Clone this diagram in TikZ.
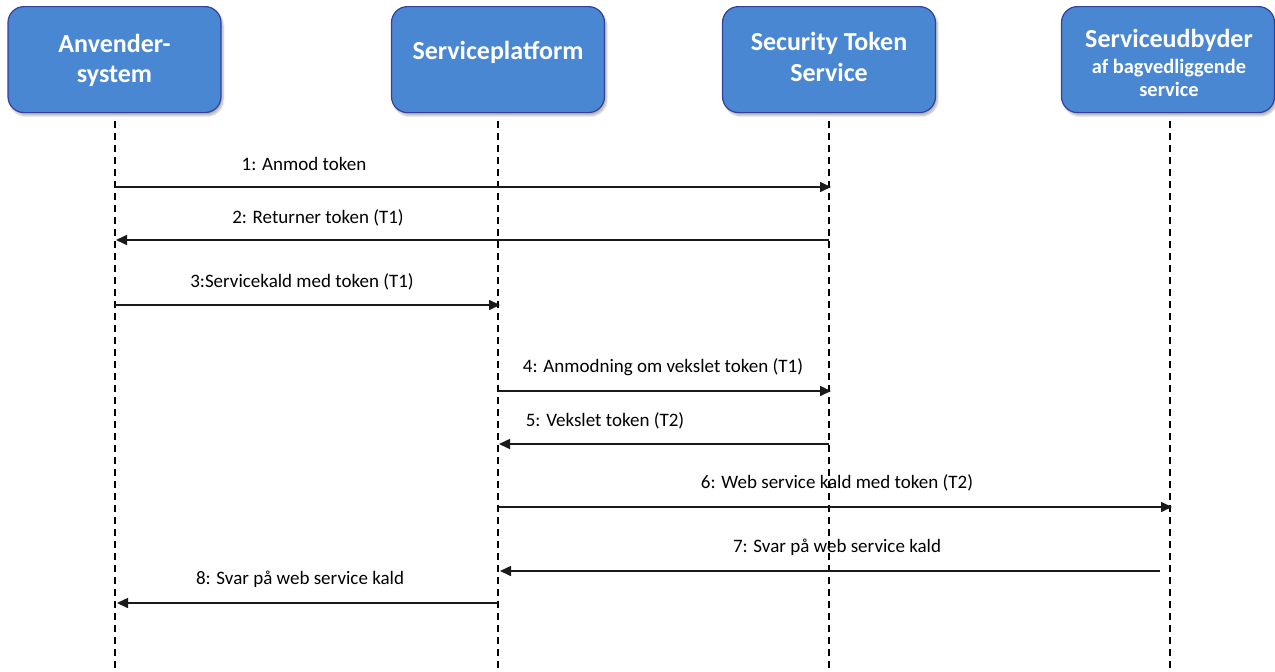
\documentclass[tikz,border=0pt]{standalone}
\usepackage{fontspec}
\setmainfont{Carlito}
\usetikzlibrary{arrows.meta,shadows.blur}
\definecolor{boxfill}{HTML}{4A87D2}
\definecolor{boxedge}{HTML}{3440A0}
\definecolor{msgline}{HTML}{1A1A1A}
\tikzset{
  actor/.style={draw=boxedge, line width=1.2pt, fill=boxfill, rounded corners=16pt,
    minimum width=213pt, minimum height=106pt, anchor=north,
    blur shadow={shadow xshift=2pt, shadow yshift=-3pt, shadow blur steps=6, shadow opacity=30}},
  title/.style={text=white, font=\bfseries\fontsize{26}{31}\selectfont, anchor=base, inner sep=0pt},
  subtitle/.style={text=white, font=\bfseries\fontsize{20.4}{24}\selectfont, anchor=base, inner sep=0pt},
  lifeline/.style={draw=black, line width=1.3pt, dash pattern=on 7pt off 5pt},
  msg/.style={draw=msgline, line width=1.6pt, -{Triangle[length=11pt,width=10pt]}},
  msglabel/.style={font=\fontsize{19}{22}\selectfont, anchor=center},
}
\begin{document}
\begin{tikzpicture}[x=1pt,y=-1pt]
\useasboundingbox (0,0) rectangle (1275,672);
% participants
\node[actor] (a) at (114.5,6) {};
\node[actor] (b) at (498,6) {};
\node[actor] (c) at (829,6) {};
\node[actor] (d) at (1168,6) {};
\node[title] (at1) at (114.5,52) {Anvender-};
\node[title] (at2) at (114.5,82) {system};
\node[title] (bt1) at (498,59) {Serviceplatform};
\node[title] (ct1) at (829,50) {Security Token};
\node[title] (ct2) at (829,81) {Service};
\node[title] (dt1) at (1169,47) {Serviceudbyder};
\node[subtitle] (dt2) at (1169,73) {af bagvedliggende};
\node[subtitle] (dt3) at (1169,96) {service};
% lifeline ends
\coordinate (a0) at (115,121); \coordinate (a1) at (115,672);
\coordinate (b0) at (498,121); \coordinate (b1) at (498,672);
\coordinate (c0) at (829,121); \coordinate (c1) at (829,672);
\coordinate (d0) at (1170,121); \coordinate (d1) at (1170,672);
\draw[lifeline] (a0) -- (a1);
\draw[lifeline] (b0) -- (b1);
\draw[lifeline] (c0) -- (c1);
\draw[lifeline] (d0) -- (d1);
% message end points
\coordinate (m1s) at (115,187);  \coordinate (m1e) at (831,187);
\coordinate (m2s) at (829,240);  \coordinate (m2e) at (116,240);
\coordinate (m3s) at (115,305);  \coordinate (m3e) at (500,305);
\coordinate (m4s) at (498,391);  \coordinate (m4e) at (831,391);
\coordinate (m5s) at (829,444);  \coordinate (m5e) at (499,444);
\coordinate (m6s) at (498,507);  \coordinate (m6e) at (1172,507);
\coordinate (m7s) at (1160,571); \coordinate (m7e) at (500,571);
\coordinate (m8s) at (498,603);  \coordinate (m8e) at (117,603);
\draw[msg] (m1s) -- (m1e);
\draw[msg] (m2s) -- (m2e);
\draw[msg] (m3s) -- (m3e);
\draw[msg] (m4s) -- (m4e);
\draw[msg] (m5s) -- (m5e);
\draw[msg] (m6s) -- (m6e);
\draw[msg] (m7s) -- (m7e);
\draw[msg] (m8s) -- (m8e);
% message labels
\node[msglabel] (l1) at (304,164) {1: Anmod token};
\node[msglabel] (l2) at (318,218) {2: Returner token (T1)};
\node[msglabel] (l3) at (302,282) {3:Servicekald med token (T1)};
\node[msglabel] (l4) at (663,367) {4: Anmodning om vekslet token (T1)};
\node[msglabel] (l5) at (605,421) {5: Vekslet token (T2)};
\node[msglabel] (l6) at (837,483) {6: Web service kald med token (T2)};
\node[msglabel] (l7) at (837,547) {7: Svar på web service kald};
\node[msglabel] (l8) at (300,579) {8: Svar på web service kald};
\end{tikzpicture}
\end{document}
